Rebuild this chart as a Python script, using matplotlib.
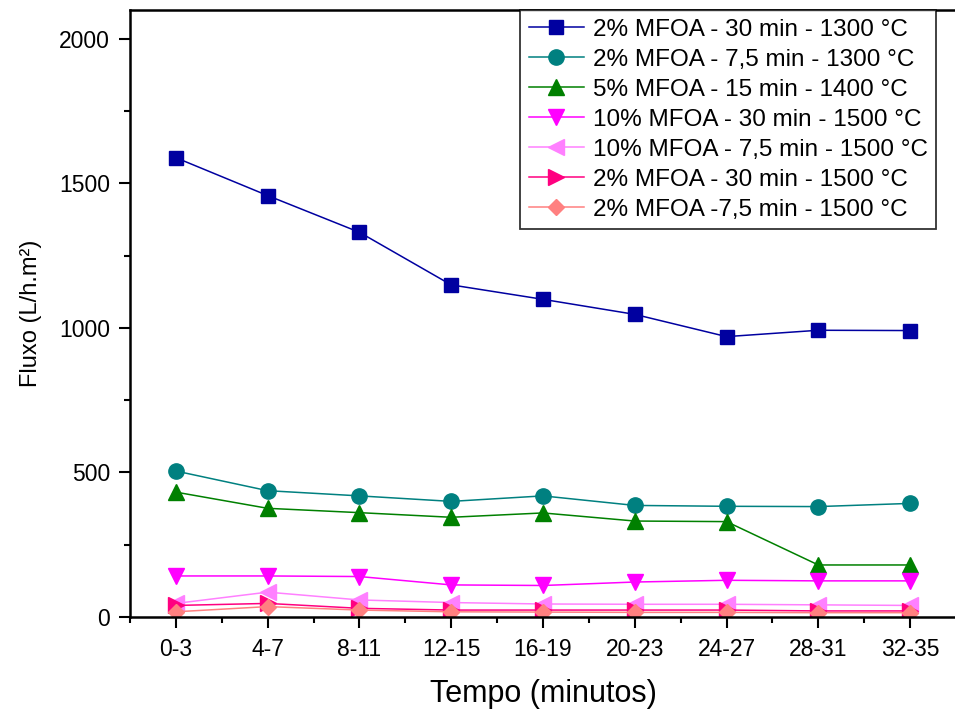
import matplotlib.pyplot as plt

plt.rcParams['font.family'] = ['Liberation Sans', 'DejaVu Sans']

# categorias do eixo x
tempos = ['0-3', '4-7', '8-11', '12-15', '16-19', '20-23', '24-27', '28-31', '32-35']

# fluxo (L/h.m2) de cada amostra
mfoa2_30_1300 = [1589, 1458, 1331, 1149, 1099, 1047, 970, 992, 991]
mfoa2_75_1300 = [505, 437, 419, 400, 419, 386, 383, 382, 393]
mfoa5_15_1400 = [432, 376, 361, 345, 360, 332, 330, 180, 180]
mfoa10_30_1500 = [142, 142, 140, 111, 109, 121, 127, 125, 125]
mfoa10_75_1500 = [47, 86, 59, 50, 45, 44, 44, 42, 40]
mfoa2_30_1500 = [40, 47, 30, 24, 24, 24, 24, 21, 21]
mfoa2_75_1500 = [18, 36, 24, 18, 17, 16, 16, 15, 15]

series = [
    (mfoa2_30_1300, '2% MFOA - 30 min - 1300 °C', '#0000A0', 's', 9.5),
    (mfoa2_75_1300, '2% MFOA - 7,5 min - 1300 °C', '#008080', 'o', 11),
    (mfoa5_15_1400, '5% MFOA - 15 min - 1400 °C', '#008000', '^', 11),
    (mfoa10_30_1500, '10% MFOA - 30 min - 1500 °C', '#FF00FF', 'v', 11),
    (mfoa10_75_1500, '10% MFOA - 7,5 min - 1500 °C', '#FF80FF', '<', 11),
    (mfoa2_30_1500, '2% MFOA - 30 min - 1500 °C', '#FF0080', '>', 11),
    (mfoa2_75_1500, '2% MFOA -7,5 min - 1500 °C', '#FF8080', 'D', 8.5),
]

fig = plt.figure(figsize=(9.55, 7.09), dpi=100)
ax = fig.add_axes([130 / 955, 1 - 617 / 709, 826 / 955, 607 / 709])

x = list(range(len(tempos)))
for valores, rotulo, cor, marcador, tam in series:
    ax.plot(x, valores, color=cor, marker=marcador, markersize=tam,
            markeredgecolor=cor, linewidth=1.1, label=rotulo)

ax.set_xlim(-0.5, len(tempos) - 0.5)
ax.set_ylim(0, 2100)
ax.set_xticks(x)
ax.set_xticklabels(tempos)
ax.set_xticks([i + 0.5 for i in x[:-1]] + [-0.5 + 0.0001], minor=True)
ax.set_yticks([0, 500, 1000, 1500, 2000])
ax.set_yticks([250, 750, 1250, 1750], minor=True)

ax.tick_params(axis='both', which='major', direction='out', length=8, width=1.5,
               labelsize=16.5, pad=6.5)
ax.tick_params(axis='both', which='minor', direction='out', length=4, width=1.5)
ax.tick_params(axis='x', which='major', pad=7)

for lado in ['left', 'bottom', 'top']:
    ax.spines[lado].set_linewidth(1.8)
ax.spines['right'].set_visible(False)

ax.set_xlabel('Tempo (minutos)', fontsize=22, labelpad=13)
ax.set_ylabel('Fluxo (L/h.m²)', fontsize=17, labelpad=12)

leg = ax.legend(loc='upper left', bbox_to_anchor=(520 / 955, 1 - 10 / 709),
                bbox_transform=fig.transFigure, fontsize=17.5, frameon=True,
                fancybox=False, borderpad=0.35, labelspacing=0.33,
                handlelength=2.3, handletextpad=0.35, borderaxespad=0)
leg.get_frame().set_edgecolor('black')
leg.get_frame().set_linewidth(1.3)

fig.savefig('out.png', dpi=100)
